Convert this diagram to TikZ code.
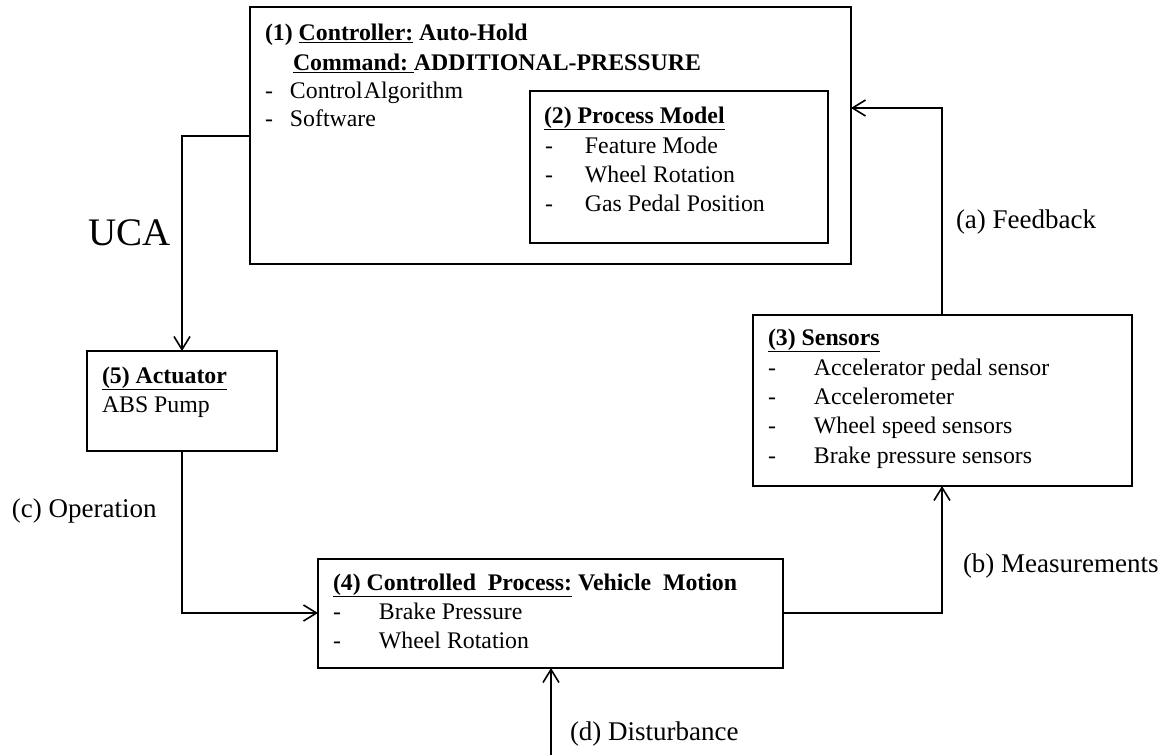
\documentclass[tikz,border=0pt]{standalone}
\usepackage{fontspec}
\setmainfont{Liberation Serif}
\usetikzlibrary{arrows.meta}
\begin{document}
\begin{tikzpicture}[x=1pt,y=-1pt,
  box/.style={draw=black, line width=1.8pt, rectangle, inner sep=0pt, outer sep=0pt, anchor=north west},
  txt/.style={inner sep=0pt, outer sep=0pt, anchor=base west, font=\fontsize{23.8}{28}\selectfont},
  lbl/.style={inner sep=0pt, outer sep=0pt, anchor=base west, font=\fontsize{27}{32}\selectfont},
  arr/.style={line width=1.6pt, -{Straight Barb[length=13pt,width=16pt,line width=1.6pt]}}]
\useasboundingbox (0,0) rectangle (1171,755);

% boxes
\node[box, minimum width=601pt, minimum height=257pt] (ctrl) at (250,7) {};
\node[box, minimum width=298pt, minimum height=152pt] (pm) at (530,91) {};
\node[box, minimum width=379pt, minimum height=171pt] (sens) at (753,315) {};
\node[box, minimum width=190pt, minimum height=100pt] (act) at (87,351) {};
\node[box, minimum width=465pt, minimum height=109pt] (proc) at (318,559) {};

% controller text
\node[txt] (c1) at (265,40) {\bfseries (1) \underline{Controller:} Auto-Hold};
\node[txt] (c2) at (293,70) {\bfseries \underline{Command:\ }ADDITIONAL-PRESSURE};
\node[txt] (c3) at (265,98) {\makebox[25pt][l]{-}Control\hspace{0.05em}Algorithm};
\node[txt] (c4) at (265,126) {\makebox[25pt][l]{-}Software};

% process model text
\node[txt] (p1) at (544,123) {\bfseries\underline{(2) Process Model}};
\node[txt] (p2) at (545,153) {\makebox[40pt][l]{-}Feature Mode};
\node[txt] (p3) at (545,182) {\makebox[40pt][l]{-}Wheel Rotation};
\node[txt] (p4) at (545,211) {\makebox[40pt][l]{-}Gas Pedal Position};

% sensors text
\node[txt] (s1) at (768,345) {\bfseries\underline{(3) Sensors}};
\node[txt] (s2) at (768,375) {\makebox[46pt][l]{-}Accelerator pedal sensor};
\node[txt] (s3) at (768,404) {\makebox[46pt][l]{-}Accelerometer};
\node[txt] (s4) at (768,433) {\makebox[46pt][l]{-}Wheel speed sensors};
\node[txt] (s5) at (768,463) {\makebox[46pt][l]{-}Brake pressure sensors};

% actuator text
\node[txt] (a1) at (102,383) {\bfseries\underline{(5) Actuator}};
\node[txt] (a2) at (102,412) {ABS Pump};

% controlled process text
\node[txt] (q1) at (333,590) {\bfseries\underline{(4) Controlled\ \ Process:}\ Vehicle\ \ Motion};
\node[txt] (q2) at (333,619) {\makebox[46pt][l]{-}Brake Pressure};
\node[txt] (q3) at (333,648) {\makebox[46pt][l]{-}Wheel Rotation};

% connector labels
\node[inner sep=0pt, anchor=base west, font=\fontsize{39}{44}\selectfont] (uca) at (88,245) {UCA};
\node[lbl] (lc) at (12,517) {(c) Operation};
\node[lbl] (la) at (956,228) {(a) Feedback};
\node[lbl] (lb) at (963,572) {(b) Measurements};
\node[lbl] (ld) at (570,740) {(d) Disturbance};

% connectors
\coordinate (dsrc) at (551,755);
\draw[arr] (ctrl.west |- 0,136) -| (act.north -| 182,0);
\draw[arr] (act.south -| 182,0) |- (proc.west |- 0,613);
\draw[arr] (proc.east |- 0,613) -| (sens.south -| 942,0);
\draw[arr] (sens.north -| 942,0) |- (ctrl.east |- 0,108);
\draw[arr] (dsrc) -- (proc.south -| dsrc);
\end{tikzpicture}
\end{document}
